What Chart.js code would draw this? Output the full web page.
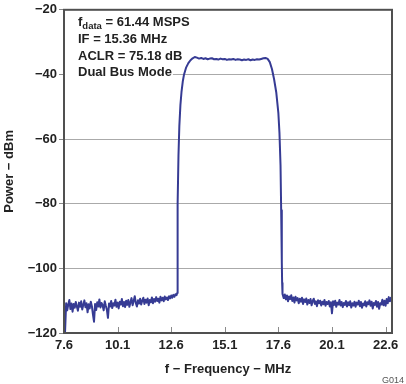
<!DOCTYPE html>
<html>
<head>
<meta charset="utf-8">
<script src="https://cdn.jsdelivr.net/npm/chart.js@4"></script>
<style>
  html, body { margin: 0; padding: 0; background: #ffffff; }
  #wrap { width: 406px; height: 384px; }
</style>
</head>
<body>
<div id="wrap"><canvas id="c" width="406" height="384"></canvas></div>
<script>
// ---- Data ----
const lowerNoiseFreq = [7.60,7.65,7.70,7.75,7.80,7.85,7.90,7.95,8.00,8.05,8.10,8.15,8.20,8.25,8.30,8.35,8.40,8.45,8.50,8.55,8.60,8.65,8.70,8.75,8.80,8.85,8.90,8.95,9.00,9.05,9.10,9.15,9.20,9.25,9.30,9.35,9.40,9.45,9.50,9.55,9.60,9.65,9.70,9.75,9.80,9.85,9.90,9.95,10.00,10.05,10.10,10.15,10.20,10.25,10.30,10.35,10.40,10.45,10.50,10.55,10.60,10.65,10.70,10.75,10.80,10.85,10.90,10.95,11.00,11.05,11.10,11.15,11.20,11.25,11.30,11.35,11.40,11.45,11.50,11.55,11.60,11.65,11.70,11.75,11.80,11.85,11.90,11.95,12.00,12.05,12.10,12.15,12.20,12.25,12.30,12.35,12.40,12.45,12.50,12.55,12.60,12.65,12.70,12.75,12.80,12.85];
const lowerNoisePower = [-112.5,-119.5,-110.8,-113.0,-111.2,-109.8,-112.6,-110.9,-113.4,-111.0,-112.2,-110.4,-111.8,-113.1,-110.6,-111.9,-110.2,-112.7,-111.3,-109.9,-112.0,-110.8,-113.6,-111.1,-112.4,-110.3,-111.7,-114.2,-116.5,-111.0,-112.9,-110.5,-111.8,-109.6,-112.1,-110.7,-111.4,-113.0,-110.2,-111.6,-112.8,-115.3,-110.9,-111.8,-110.1,-112.3,-110.8,-111.5,-109.7,-111.9,-110.6,-112.4,-110.3,-111.2,-109.5,-111.7,-110.4,-112.0,-110.0,-111.3,-109.8,-111.9,-110.5,-109.2,-111.4,-110.1,-108.6,-110.7,-111.8,-109.9,-110.9,-109.4,-111.2,-110.0,-109.1,-111.0,-109.7,-110.6,-109.3,-111.4,-109.8,-110.5,-109.0,-110.8,-109.5,-110.3,-108.9,-110.1,-109.4,-110.6,-108.8,-109.9,-109.1,-110.2,-108.7,-109.6,-109.0,-109.8,-108.6,-109.3,-108.4,-109.1,-108.2,-108.8,-108.0,-108.3];

const bandFreq = [12.88,12.89,12.91,12.94,12.98,13.03,13.08,13.14,13.20,13.30,13.40,13.50,13.60,13.70,13.80,13.90,14.00,14.10,14.20,14.30,14.40,14.50,14.60,14.70,14.80,14.90,15.00,15.10,15.20,15.30,15.40,15.50,15.60,15.70,15.80,15.90,16.00,16.10,16.20,16.30,16.40,16.50,16.60,16.70,16.80,16.90,17.00,17.10,17.20,17.30,17.40,17.50,17.60,17.65,17.70,17.73,17.76,17.775,17.785];
const bandPower = [-107.6,-100.0,-80.0,-65.0,-56.0,-49.5,-45.5,-42.2,-40.0,-37.8,-36.5,-35.6,-35.0,-34.6,-34.8,-35.1,-34.9,-35.2,-35.0,-35.3,-35.1,-35.0,-35.3,-35.2,-35.4,-35.1,-35.3,-35.2,-35.5,-35.3,-35.4,-35.2,-35.5,-35.3,-35.4,-35.6,-35.4,-35.5,-35.3,-35.6,-35.4,-35.5,-35.3,-35.4,-35.2,-35.0,-34.9,-35.2,-36.2,-38.3,-41.5,-45.5,-52.0,-58.0,-68.0,-82.0,-98.0,-104.5,-107.8];

const upperNoiseFreq = [17.80,17.85,17.90,17.95,18.00,18.05,18.10,18.15,18.20,18.25,18.30,18.35,18.40,18.45,18.50,18.55,18.60,18.65,18.70,18.75,18.80,18.85,18.90,18.95,19.00,19.05,19.10,19.15,19.20,19.25,19.30,19.35,19.40,19.45,19.50,19.55,19.60,19.65,19.70,19.75,19.80,19.85,19.90,19.95,20.00,20.05,20.10,20.15,20.20,20.25,20.30,20.35,20.40,20.45,20.50,20.55,20.60,20.65,20.70,20.75,20.80,20.85,20.90,20.95,21.00,21.05,21.10,21.15,21.20,21.25,21.30,21.35,21.40,21.45,21.50,21.55,21.60,21.65,21.70,21.75,21.80,21.85,21.90,21.95,22.00,22.05,22.10,22.15,22.20,22.25,22.30,22.35,22.40,22.45,22.50,22.55,22.60,22.65,22.70,22.75,22.80,22.85,22.90];
const upperNoisePower = [-107.9,-109.2,-108.1,-109.6,-108.4,-110.2,-108.7,-109.5,-108.3,-110.1,-109.0,-110.6,-108.8,-109.9,-109.2,-110.8,-109.4,-110.3,-109.1,-111.0,-109.6,-110.4,-109.3,-111.2,-109.8,-110.7,-109.5,-111.4,-110.1,-109.4,-111.0,-110.2,-111.7,-109.9,-110.8,-110.0,-111.5,-110.3,-111.1,-109.8,-111.6,-110.4,-111.0,-110.1,-111.8,-110.5,-113.9,-110.2,-111.3,-110.0,-111.9,-110.6,-111.2,-109.8,-111.5,-110.4,-112.0,-110.7,-111.3,-110.1,-111.8,-110.5,-111.4,-110.2,-112.1,-110.8,-111.5,-110.3,-111.9,-110.6,-111.2,-110.0,-111.7,-110.4,-112.2,-110.9,-111.4,-110.2,-111.8,-110.5,-111.1,-109.9,-111.6,-110.3,-112.4,-110.7,-111.3,-110.1,-111.9,-110.4,-112.5,-110.8,-111.2,-109.7,-111.4,-110.0,-111.6,-109.5,-110.8,-108.9,-110.2,-109.1,-110.4];

const xTickValues = [7.6, 10.1, 12.6, 15.1, 17.6, 20.1, 22.6];
const xTickLabels = ['7.6', '10.1', '12.6', '15.1', '17.6', '20.1', '22.6'];
const yTickValues = [-120, -100, -80, -60, -40, -20];
const yTickLabels = ['\u2212120', '\u2212100', '\u221280', '\u221260', '\u221240', '\u221220'];

const annotationLines = ['IF = 15.36 MHz', 'ACLR = 75.18 dB', 'Dual Bus Mode'];
const xTitle = 'f \u2212 Frequency \u2212 MHz';
const yTitle = 'Power \u2212 dBm';
const figureId = 'G014';

// ---- Build points ----
const allFreq = lowerNoiseFreq.concat(bandFreq, upperNoiseFreq);
const allPower = lowerNoisePower.concat(bandPower, upperNoisePower);
const points = allFreq.map((f, i) => ({ x: f, y: allPower[i] }));

const FONT = '"Liberation Sans", Arial, Helvetica, sans-serif';

const decorPlugin = {
  id: 'decor',
  beforeDatasetsDraw(chart) {
    const ctx = chart.ctx;
    const a = chart.chartArea;
    const x0 = a.left + 14;
    const baselines = [26, 43, 59.5, 76];
    ctx.save();
    ctx.textBaseline = 'alphabetic';
    ctx.textAlign = 'left';
    ctx.font = 'bold 13px ' + FONT;
    const wf = ctx.measureText('f').width;
    ctx.font = 'bold 9.5px ' + FONT;
    const wsub = ctx.measureText('data').width;
    ctx.font = 'bold 13px ' + FONT;
    const rest = ' = 61.44 MSPS';
    const wrest = ctx.measureText(rest).width;
    const widths = [wf + wsub + wrest];
    annotationLines.forEach(t => widths.push(ctx.measureText(t).width));
    ctx.fillStyle = '#ffffff';
    baselines.forEach((b, i) => {
      ctx.fillRect(a.left + 1, b - 13, (x0 - a.left - 1) + widths[i] + 1, 18);
    });
    ctx.fillStyle = '#222222';
    ctx.font = 'bold 13px ' + FONT;
    ctx.fillText('f', x0, baselines[0]);
    ctx.font = 'bold 9.5px ' + FONT;
    ctx.fillText('data', x0 + wf, baselines[0] + 3);
    ctx.font = 'bold 13px ' + FONT;
    ctx.fillText(rest, x0 + wf + wsub, baselines[0]);
    annotationLines.forEach((t, i) => ctx.fillText(t, x0, baselines[i + 1]));
    ctx.restore();
  },
  afterDraw(chart) {
    const ctx = chart.ctx;
    const a = chart.chartArea;
    const xs = chart.scales.x;
    ctx.save();
    ctx.strokeStyle = '#8a8a8a';
    ctx.lineWidth = 1;
    xTickValues.forEach(v => {
      const px = Math.round(xs.getPixelForValue(v)) + 0.5;
      ctx.beginPath();
      ctx.moveTo(px, a.bottom);
      ctx.lineTo(px, a.bottom - 6);
      ctx.stroke();
    });
    ctx.strokeStyle = '#505050';
    ctx.lineWidth = 2;
    ctx.strokeRect(a.left, a.top, a.right - a.left, a.bottom - a.top);
    ctx.fillStyle = '#555555';
    ctx.font = '9px ' + FONT;
    ctx.textAlign = 'right';
    ctx.textBaseline = 'alphabetic';
    ctx.fillText(figureId, 404, 383);
    ctx.restore();
  }
};

new Chart(document.getElementById('c'), {
  type: 'line',
  data: {
    datasets: [{
      data: points,
      borderColor: '#363b94',
      borderWidth: 2,
      borderJoinStyle: 'round',
      pointRadius: 0,
      tension: 0,
      fill: false
    }]
  },
  options: {
    responsive: false,
    animation: false,
    events: [],
    layout: { padding: { left: 0, right: 14, top: 6, bottom: 0 } },
    plugins: { legend: { display: false }, tooltip: { enabled: false } },
    scales: {
      x: {
        type: 'linear',
        min: 7.6,
        max: 22.9,
        afterBuildTicks(scale) { scale.ticks = xTickValues.map(v => ({ value: v })); },
        afterFit(scale) { scale.height = 51; },
        grid: { display: false, drawTicks: false },
        border: { display: false },
        ticks: {
          autoSkip: false,
          maxRotation: 0,
          padding: 5,
          color: '#222222',
          font: { family: FONT, size: 13, weight: 'bold' },
          callback(v) { const i = xTickValues.findIndex(t => Math.abs(t - v) < 1e-6); return i >= 0 ? xTickLabels[i] : ''; }
        },
        title: {
          display: true,
          text: xTitle,
          color: '#222222',
          font: { family: FONT, size: 13, weight: 'bold' },
          padding: { top: 0, bottom: 7 }
        }
      },
      y: {
        type: 'linear',
        min: -120,
        max: -20,
        afterBuildTicks(scale) { scale.ticks = yTickValues.map(v => ({ value: v })); },
        afterFit(scale) { scale.width = 64; },
        grid: { color: '#aaaaaa', lineWidth: 1, drawTicks: true, tickLength: 5, tickColor: '#888888' },
        border: { display: false },
        ticks: {
          autoSkip: false,
          padding: 2,
          color: '#222222',
          font: { family: FONT, size: 13, weight: 'bold' },
          callback(v) { const i = yTickValues.indexOf(v); return i >= 0 ? yTickLabels[i] : ''; }
        },
        title: {
          display: true,
          text: yTitle,
          color: '#222222',
          font: { family: FONT, size: 13, weight: 'bold' },
          padding: { top: 2, bottom: 0 }
        }
      }
    }
  },
  plugins: [decorPlugin]
});
</script>
</body>
</html>
